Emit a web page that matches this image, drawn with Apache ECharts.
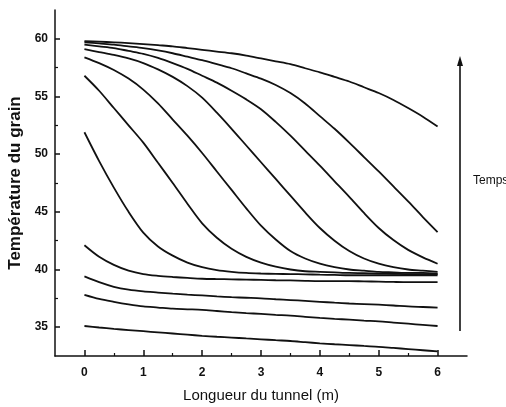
<!DOCTYPE html>
<html>
<head>
<meta charset="utf-8">
<script src="https://cdn.jsdelivr.net/npm/echarts@6/dist/echarts.min.js"></script>
<style>html,body{margin:0;padding:0;background:#fff}#c{width:506px;height:407px}</style>
</head>
<body>
<div id="c"></div>
<script>
// tunnel length positions (m)
const xs = [0, 0.25, 0.5, 0.75, 1, 1.25, 1.5, 1.75, 2, 2.25, 2.5, 2.75, 3, 3.25, 3.5, 3.75, 4, 4.25, 4.5, 4.75, 5, 5.25, 5.5, 5.75, 6];
// grain temperature curves, one per time step
const curveA = [59.8, 59.75, 59.7, 59.63, 59.55, 59.45, 59.35, 59.2, 59.05, 58.9, 58.75, 58.55, 58.3, 58.05, 57.8, 57.45, 57.1, 56.7, 56.3, 55.8, 55.3, 54.7, 54.0, 53.25, 52.4];
const curveB = [59.7, 59.6, 59.5, 59.35, 59.2, 59.0, 58.75, 58.45, 58.15, 57.8, 57.45, 57.0, 56.55, 56.0, 55.3, 54.4, 53.3, 52.2, 51.0, 49.75, 48.5, 47.2, 45.9, 44.55, 43.25];
const curveC = [59.5, 59.35, 59.2, 58.95, 58.7, 58.35, 57.9, 57.4, 56.8, 56.2, 55.5, 54.75, 53.9, 52.8, 51.6, 50.3, 49.0, 47.65, 46.3, 44.9, 43.6, 42.55, 41.7, 41.05, 40.5];
const curveD = [59.1, 58.85, 58.6, 58.3, 57.9, 57.35, 56.7, 55.9, 54.9, 53.6, 52.2, 50.75, 49.3, 47.85, 46.4, 44.95, 43.6, 42.5, 41.6, 40.95, 40.5, 40.2, 40.0, 39.9, 39.8];
const curveE = [58.4, 57.9, 57.3, 56.55, 55.6, 54.4, 53.0, 51.6, 50.1, 48.5, 46.9, 45.3, 43.8, 42.6, 41.6, 40.95, 40.5, 40.2, 40.0, 39.9, 39.8, 39.75, 39.7, 39.7, 39.65];
const curveF = [56.8, 55.5, 54.0, 52.5, 51.0, 49.25, 47.5, 45.7, 44.0, 42.75, 41.8, 41.1, 40.6, 40.25, 40.0, 39.85, 39.8, 39.75, 39.7, 39.68, 39.65, 39.63, 39.6, 39.6, 39.6];
const curveG = [51.9, 49.4, 47.1, 45.0, 43.2, 42.0, 41.2, 40.6, 40.2, 39.95, 39.8, 39.7, 39.65, 39.62, 39.6, 39.58, 39.55, 39.53, 39.5, 39.5, 39.5, 39.5, 39.5, 39.5, 39.5];
const curveH = [42.1, 41.1, 40.4, 39.9, 39.6, 39.45, 39.35, 39.27, 39.2, 39.17, 39.15, 39.12, 39.1, 39.07, 39.05, 39.02, 39.0, 39.0, 39.0, 38.97, 38.95, 38.92, 38.9, 38.9, 38.9];
const curveI = [39.4, 38.9, 38.5, 38.25, 38.1, 38.0, 37.9, 37.82, 37.75, 37.67, 37.6, 37.55, 37.5, 37.42, 37.35, 37.28, 37.2, 37.12, 37.05, 37.0, 36.95, 36.88, 36.8, 36.75, 36.7];
const curveJ = [37.8, 37.45, 37.2, 36.98, 36.8, 36.7, 36.6, 36.55, 36.5, 36.4, 36.3, 36.22, 36.15, 36.07, 36.0, 35.9, 35.8, 35.72, 35.65, 35.57, 35.5, 35.4, 35.3, 35.2, 35.1];
const curveK = [35.1, 34.97, 34.85, 34.75, 34.65, 34.55, 34.45, 34.35, 34.25, 34.17, 34.1, 34.02, 33.95, 33.87, 33.8, 33.7, 33.6, 33.52, 33.45, 33.37, 33.3, 33.2, 33.1, 33.0, 32.9];
const curves = [curveA, curveB, curveC, curveD, curveE, curveF, curveG, curveH, curveI, curveJ, curveK];

// tick labels
const xTicks = [0, 1, 2, 3, 4, 5, 6];
const xMinor = [0.5, 1.5, 2.5, 3.5, 4.5, 5.5];
const yTicks = [35, 40, 45, 50, 55, 60];
const yMinor = [37.5, 42.5, 47.5, 52.5, 57.5];

const chart = echarts.init(document.getElementById('c'));
const ink = '#111';
const axisBase = {
  type: 'value',
  splitLine: { show: false }
};
chart.setOption({
  animation: false,
  backgroundColor: '#fff',
  grid: { left: 55, right: 39, top: 10, bottom: 51, containLabel: false, outerBoundsMode: 'none' },
  xAxis: [
    Object.assign({}, axisBase, {
      min: -0.5, max: 6.5,
      name: 'Longueur du tunnel (m)',
      nameLocation: 'middle', nameGap: 32,
      nameTextStyle: { fontFamily: 'Liberation Sans', fontSize: 15, color: ink },
      axisLine: { show: true, onZero: false, lineStyle: { color: ink, width: 1.5 } },
      axisTick: { show: true, inside: true, length: 6, customValues: xTicks, lineStyle: { color: ink, width: 1.5 } },
      axisLabel: { customValues: xTicks, margin: 11, fontFamily: 'Liberation Sans', fontWeight: 'bold', fontSize: 12, color: ink }
    }),
    Object.assign({}, axisBase, {
      min: -0.5, max: 6.5, position: 'bottom',
      axisLine: { show: false, onZero: false },
      axisTick: { show: true, inside: true, length: 3, customValues: xMinor, lineStyle: { color: ink, width: 1.2 } },
      axisLabel: { show: false }
    })
  ],
  yAxis: [
    Object.assign({}, axisBase, {
      min: 32.5, max: 62.5,
      name: 'Température du grain',
      nameLocation: 'middle', nameGap: 28,
      nameTextStyle: { fontFamily: 'Liberation Sans', fontWeight: 'bold', fontSize: 17, color: ink },
      axisLine: { show: true, onZero: false, lineStyle: { color: ink, width: 1.5 } },
      axisTick: { show: true, inside: true, length: 5, customValues: yTicks, lineStyle: { color: ink, width: 1.5 } },
      axisLabel: { customValues: yTicks, margin: 7, fontFamily: 'Liberation Sans', fontWeight: 'bold', fontSize: 12, color: ink }
    }),
    Object.assign({}, axisBase, {
      min: 32.5, max: 62.5, position: 'left',
      axisLine: { show: false, onZero: false },
      axisTick: { show: true, inside: true, length: 3, customValues: yMinor, lineStyle: { color: ink, width: 1.2 } },
      axisLabel: { show: false }
    })
  ],
  series: curves.map(function (c) {
    return {
      type: 'line',
      xAxisIndex: 0, yAxisIndex: 0,
      data: xs.map(function (x, i) { return [x, c[i]]; }),
      smooth: 0.3,
      showSymbol: false,
      lineStyle: { color: ink, width: 1.8 }
    };
  }),
  graphic: [
    { type: 'line', shape: { x1: 460, y1: 331, x2: 460, y2: 62 }, style: { stroke: ink, lineWidth: 1.6 } },
    { type: 'polygon', shape: { points: [[460, 56], [457, 66], [463, 66]] }, style: { fill: ink } },
    { type: 'text', left: 473, top: 175, style: { text: 'Temps', fontFamily: 'Liberation Sans', fontSize: 12, fill: ink } }
  ]
});
</script>
</body>
</html>
